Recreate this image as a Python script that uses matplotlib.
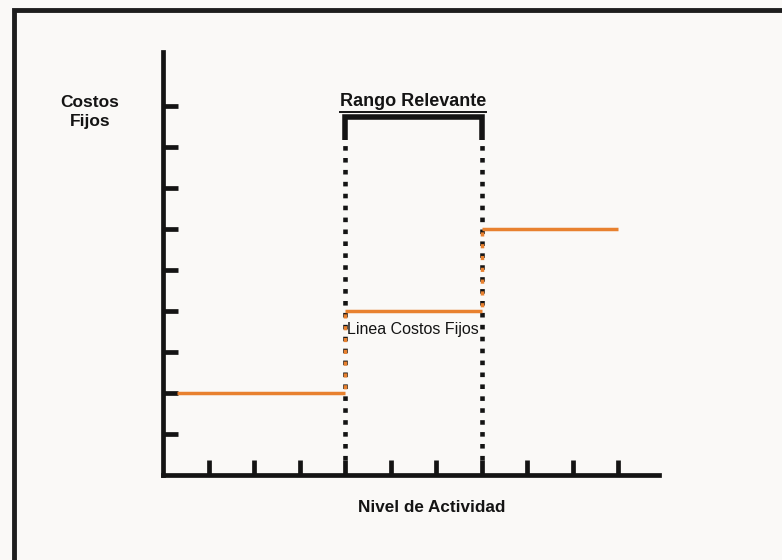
import matplotlib.pyplot as plt
from matplotlib.lines import Line2D

plt.rcParams['font.family'] = ['Liberation Sans', 'DejaVu Sans']

# step function for fixed costs
seg_start = [0.3, 4, 7]
seg_end = [4, 7, 10]
fixed_cost = [2, 4, 6]
relevant_range = [4, 7]

x_ticks = [1, 2, 3, 4, 5, 6, 7, 8, 9, 10]
y_ticks = [1, 2, 3, 4, 5, 6, 7, 8, 9]

orange = '#E8812F'
dark = '#141414'
bg = '#FAF9F7'

fig = plt.figure(figsize=(7.82, 5.6), dpi=100)
fig.patch.set_facecolor(bg)
ax = fig.add_axes([163 / 782, 85 / 560, 496 / 782, 423 / 560])
ax.set_facecolor(bg)
ax.set_xlim(0, 496 / 45.5)
ax.set_ylim(0, 423 / 41)

for s in ['top', 'right']:
    ax.spines[s].set_visible(False)
for s in ['left', 'bottom']:
    ax.spines[s].set_linewidth(3.4)
    ax.spines[s].set_color(dark)
    ax.spines[s].set_capstyle('projecting')

ax.set_xticks(x_ticks)
ax.set_yticks(y_ticks)
ax.set_xticklabels([])
ax.set_yticklabels([])
ax.tick_params(direction='in', length=11, width=3.4, color=dark)

# relevant range: dotted verticals + bracket
y_dot_lo, y_dot_hi, y_br = 0.37, 8.17, 8.73
for xr in relevant_range:
    ax.plot([xr, xr], [y_dot_lo, y_dot_hi], color=dark, lw=3.3,
            linestyle=(0, (1, 1.6)), solid_capstyle='butt')
ax.plot([relevant_range[0], relevant_range[0], relevant_range[1], relevant_range[1]],
        [y_dot_hi, y_br, y_br, y_dot_hi], color=dark, lw=4,
        solid_joinstyle='miter', solid_capstyle='butt')

# fixed cost steps
for i in range(len(fixed_cost)):
    ax.plot([seg_start[i], seg_end[i]], [fixed_cost[i], fixed_cost[i]],
            color=orange, lw=2.5, solid_capstyle='butt')
for i in range(1, len(fixed_cost)):
    ax.plot([seg_start[i], seg_start[i]], [fixed_cost[i - 1], fixed_cost[i]],
            color=orange, lw=2.5, linestyle=(2.2, (1.2, 2.2)))

mid = sum(relevant_range) / 2
t = ax.text(mid, 9.0, 'Rango Relevante', ha='center', va='baseline',
            fontsize=13, fontweight='bold', color=dark)
ax.text(mid, 3.55, 'Linea Costos Fijos', ha='center', va='center',
        fontsize=11.5, color=dark)
fig.text(90 / 782, 1 - 112 / 560, 'Costos\nFijos', ha='center', va='center',
         fontsize=12.5, fontweight='bold', color=dark, linespacing=1.35)
fig.text(432 / 782, 1 - 508 / 560, 'Nivel de Actividad', ha='center', va='center',
         fontsize=12.3, fontweight='bold', color=dark)

# underline for the title
fig.canvas.draw()
bb = t.get_window_extent()
fig.add_artist(Line2D([bb.x0 / 782, bb.x1 / 782],
                      [(bb.y0 - 2) / 560, (bb.y0 - 2) / 560],
                      transform=fig.transFigure, color=dark, lw=1.4))

# frame of the picture
fig.add_artist(Line2D([14 / 782, 14 / 782, 1], [0, 1 - 10 / 560, 1 - 10 / 560],
                      transform=fig.transFigure, color='#1E1E1E', lw=3.5,
                      solid_joinstyle='miter'))

fig.savefig('out.png', dpi=100, facecolor=bg)
